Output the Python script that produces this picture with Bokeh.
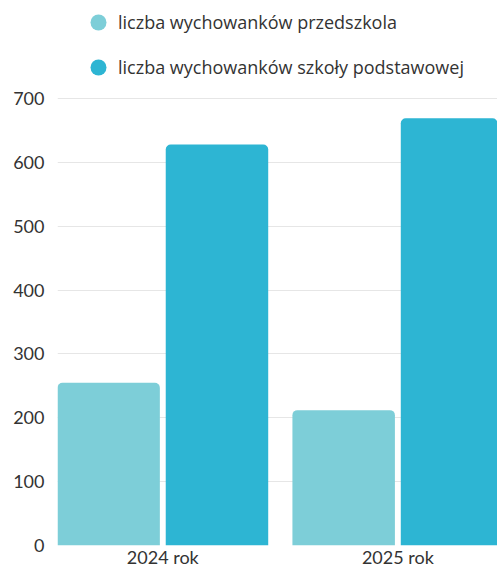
from bokeh.plotting import figure
from bokeh.models import (Range1d, Legend, LegendItem, FixedTicker,
                          ColumnDataSource)
from bokeh.transform import dodge
from bokeh.embed import file_html
from bokeh.resources import INLINE

categories = ["2024 rok", "2025 rok"]
przedszkola = [255, 212]
szkoly = [628, 669]
series_names = ["liczba wychowanków przedszkola",
                "liczba wychowanków szkoły podstawowej"]
series_colors = ["#7dced8", "#2db5d3"]
y_ticks = [0, 100, 200, 300, 400, 500, 600, 700]

positions = [i + 0.5 for i in range(len(categories))]
src = ColumnDataSource(dict(x=positions, a=przedszkola, b=szkoly))

# y range extends above the top tick so the legend sits in the frame
p = figure(width=497, height=570,
           x_range=Range1d(0.052, 1.924), y_range=Range1d(0, 853.5),
           output_backend="svg", toolbar_location=None,
           min_border_left=57, min_border_top=0,
           min_border_bottom=0, min_border_right=0)

p.vbar(x=dodge("x", -0.2305), top="a", width=0.436, source=src,
       fill_color=series_colors[0], line_color=None,
       border_radius=(5, 5, 0, 0))
p.vbar(x=dodge("x", 0.2305), top="b", width=0.436, source=src,
       fill_color=series_colors[1], line_color=None,
       border_radius=(5, 5, 0, 0))

# legend swatches: hidden circle renderers (only shown in the legend)
s1 = p.scatter(x="x", y="a", source=src, marker="circle", size=16,
               fill_color=series_colors[0], line_color=None, visible=False)
s2 = p.scatter(x="x", y="b", source=src, marker="circle", size=16,
               fill_color=series_colors[1], line_color=None, visible=False)

legend = Legend(items=[LegendItem(label=series_names[0], renderers=[s1]),
                       LegendItem(label=series_names[1], renderers=[s2])],
                location=(21, 457), orientation="vertical",
                glyph_width=40, glyph_height=42, label_height=42,
                spacing=3, padding=0, margin=0, label_standoff=-2,
                border_line_color=None, background_fill_alpha=0,
                inactive_fill_alpha=0,
                label_text_font="Open Sans", label_text_font_size="18px",
                label_text_color="#333333")
p.add_layout(legend)

p.outline_line_color = None
p.xgrid.visible = False
p.ygrid.ticker = FixedTicker(ticks=y_ticks)
p.ygrid.grid_line_color = "#e6e6e6"
p.ygrid.grid_line_width = 1

p.yaxis.ticker = FixedTicker(ticks=y_ticks)
p.yaxis.axis_line_color = None
p.yaxis.major_tick_line_color = None
p.yaxis.minor_tick_line_color = None
p.yaxis.major_tick_out = 0
p.yaxis.major_label_standoff = 13
p.yaxis.major_label_text_font = "Lato"
p.yaxis.major_label_text_font_size = "18px"
p.yaxis.major_label_text_color = "#333333"

p.xaxis.ticker = FixedTicker(ticks=positions)
p.xaxis.major_label_overrides = {pos: cat for pos, cat in zip(positions, categories)}
p.xaxis.axis_line_color = None
p.xaxis.major_tick_line_color = None
p.xaxis.minor_tick_line_color = None
p.xaxis.major_tick_out = 0
p.xaxis.major_label_standoff = 0
p.xaxis.major_label_text_font = "Lato"
p.xaxis.major_label_text_font_size = "18px"
p.xaxis.major_label_text_color = "#333333"

open("out.html", "w").write(file_html(p, INLINE))
